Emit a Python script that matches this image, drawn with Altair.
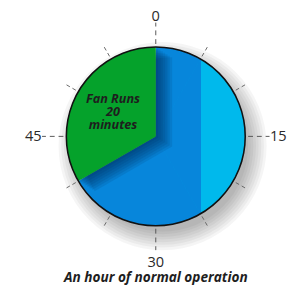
import math
import numpy as np
import pandas as pd
import altair as alt

# ---- data ----
slice_names = ["Fan off", "Fan runs"]
slice_start = [0, 40]
slice_end = [40, 60]
slice_colors = ["#0786DB", "#05A22B"]

band_start = [5]      # lighter band: chord between the 5 and 25 minute marks
band_end = [25]
band_color = "#00B9EC"

major_minutes = [0, 15, 30, 45]
minor_minutes = [5, 10, 20, 25, 35, 40, 50, 55]
label_text = ["0", "15", "30", "45"]

center_text = "Fan Runs\n20\nminutes"
caption = "An hour of normal operation"

# ---- geometry (pixel units, centre at 0,0, y up) ----
R = 92
W, H = 288, 283
CX, CY = 152, 128
xs = alt.Scale(domain=[-CX, W - CX], range=[0, W], nice=False, zero=False)
ys = alt.Scale(domain=[-(H - CY), CY], range=[H, 0], nice=False, zero=False)
ts = alt.Scale(domain=[0, 60], range=[0, 2 * math.pi])


def polar(m, r):
    a = 2 * math.pi * np.asarray(m, dtype=float) / 60.0
    return r * np.sin(a), r * np.cos(a)


X = lambda: alt.X("x:Q", scale=xs, axis=None)
Y = lambda: alt.Y("y:Q", scale=ys, axis=None)

# outer drop shadow (lower right)
sh = pd.DataFrame({"x": 7, "y": -10, "t0": 0, "t1": 60,
                   "r": np.linspace(R - 4, R + 15, 8)})
outer_shadow = alt.Chart(sh).mark_arc(color="#000000", opacity=0.04).encode(
    x=X(), y=Y(), theta=alt.Theta("t0:Q", scale=ts), theta2="t1:Q",
    radius=alt.Radius("r:Q", scale=None))

slices = pd.DataFrame({"name": slice_names, "t0": slice_start, "t1": slice_end,
                       "x": 0, "y": 0})
cscale = alt.Scale(domain=slice_names, range=slice_colors)
blue = alt.Chart(slices.iloc[[0]]).mark_arc(radius=R).encode(
    x=X(), y=Y(), theta=alt.Theta("t0:Q", scale=ts), theta2="t1:Q",
    color=alt.Color("name:N", scale=cscale, legend=None))

band = pd.DataFrame({"t0": band_start, "t1": band_end, "x": 0, "y": 0})
band_arc = alt.Chart(band).mark_arc(radius=R, color=band_color).encode(
    x=X(), y=Y(), theta=alt.Theta("t0:Q", scale=ts), theta2="t1:Q")

cx, cy = polar(band_start, R)
tri = pd.DataFrame({"x": [0.0, float(cx[0])], "y": [0.0, float(cy[0])], "y2": [0.0, -float(cy[0])]})
triangle = alt.Chart(tri).mark_area(color=slice_colors[0], stroke=slice_colors[0], strokeWidth=1).encode(
    x=X(), y=Y(), y2="y2:Q")

gs = pd.DataFrame({"k": np.arange(1, 8)})
gs["x"] = gs["k"] * 2.4
gs["y"] = -gs["k"] * 1.5
gs["t0"] = slice_start[1]
gs["t1"] = slice_end[1]
green_shadow = alt.Chart(gs).mark_arc(radius=R, color="#001a40", opacity=0.1).encode(
    x=X(), y=Y(), theta=alt.Theta("t0:Q", scale=ts), theta2="t1:Q")

green = alt.Chart(slices.iloc[[1]]).mark_arc(radius=R).encode(
    x=X(), y=Y(), theta=alt.Theta("t0:Q", scale=ts), theta2="t1:Q",
    color=alt.Color("name:N", scale=cscale, legend=None))

outline_df = pd.DataFrame({"x": [0], "y": [0], "t0": [0], "t1": [60]})
outline = alt.Chart(outline_df).mark_arc(radius=R, fillOpacity=0, stroke="#111111", strokeWidth=1.6).encode(
    x=X(), y=Y(), theta=alt.Theta("t0:Q", scale=ts), theta2="t1:Q")


def tick_df(mins, r0, r1):
    x0, y0 = polar(mins, r0)
    x1, y1 = polar(mins, r1)
    return pd.DataFrame({"x": x0, "y": y0, "x2": x1, "y2": y1})

minor = alt.Chart(tick_df(minor_minutes, 95, 108)).mark_rule(
    color="#666666", strokeWidth=1, strokeDash=[4, 3]).encode(x=X(), y=Y(), x2="x2:Q", y2="y2:Q")
major = alt.Chart(tick_df(major_minutes, 95, 117)).mark_rule(
    color="#555555", strokeWidth=1, strokeDash=[5, 4]).encode(x=X(), y=Y(), x2="x2:Q", y2="y2:Q")

lx, ly = polar(major_minutes, 126)
labels = pd.DataFrame({"x": lx, "y": ly, "t": label_text})
labels.loc[0, "y"] = 123.5
labels.loc[2, "y"] = -129
label_layer = alt.Chart(labels).mark_text(
    font="Open Sans", fontSize=15, color="#2a2a2a", baseline="middle", align="center").encode(
    x=X(), y=Y(), text="t:N")

ct = pd.DataFrame({"x": [-44], "y": [38], "t": [center_text]})
center_layer = alt.Chart(ct).mark_text(
    font="Open Sans", fontSize=13, fontWeight="bold", fontStyle="italic", color="#1e1e1e",
    lineBreak="\n", lineHeight=13, baseline="middle", align="center").encode(
    x=X(), y=Y(), text="t:N")

cap = pd.DataFrame({"x": [0], "y": [-146], "t": [caption]})
cap_layer = alt.Chart(cap).mark_text(
    font="Open Sans", fontSize=14, fontWeight="bold", fontStyle="italic", color="#1e1e1e",
    baseline="middle", align="center").encode(x=X(), y=Y(), text="t:N")

chart = alt.layer(
    outer_shadow, blue, band_arc, triangle, green_shadow, green, outline,
    minor, major, label_layer, center_layer, cap_layer
).properties(
    width=W, height=H, autosize=alt.AutoSizeParams(type="none"), padding=0, background="white"
).configure_view(stroke=None)

chart.save("out.html", embed_options={"renderer": "svg", "actions": False})
